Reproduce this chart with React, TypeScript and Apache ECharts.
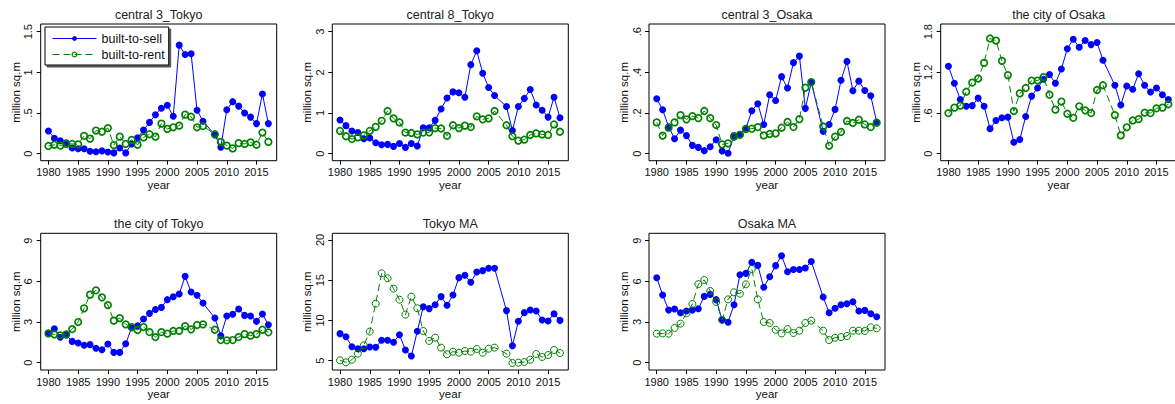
import React, { useEffect, useRef } from "react";
import * as echarts from "echarts";

// years observed (1980–2017, no 2007 observation)
const years = [
  1980, 1981, 1982, 1983, 1984, 1985, 1986, 1987, 1988, 1989,
  1990, 1991, 1992, 1993, 1994, 1995, 1996, 1997, 1998, 1999,
  2000, 2001, 2002, 2003, 2004, 2005, 2006, 2008, 2009, 2010,
  2011, 2012, 2013, 2014, 2015, 2016, 2017,
];
const xTicks = [1980, 1985, 1990, 1995, 2000, 2005, 2010, 2015];

const panelTitles = [
  "central 3_Tokyo",
  "central 8_Tokyo",
  "central 3_Osaka",
  "the city of Osaka",
  "the city of Tokyo",
  "Tokyo MA",
  "Osaka MA",
];

const central3TokyoSell = [
  0.28, 0.19, 0.16, 0.135, 0.07, 0.06, 0.06, 0.03, 0.025, 0.035,
  0.02, 0.01, 0.07, 0.01, 0.12, 0.195, 0.29, 0.385, 0.48, 0.56,
  0.595, 0.46, 1.335, 1.22, 1.23, 0.535, 0.4, 0.23, 0.08, 0.54,
  0.64, 0.585, 0.5, 0.45, 0.37, 0.735, 0.37,
];
const central3TokyoRent = [
  0.095, 0.11, 0.1, 0.12, 0.12, 0.115, 0.22, 0.185, 0.285, 0.27,
  0.315, 0.105, 0.21, 0.12, 0.17, 0.11, 0.2, 0.24, 0.21, 0.37,
  0.305, 0.325, 0.345, 0.48, 0.455, 0.325, 0.34, 0.24, 0.145, 0.1,
  0.065, 0.13, 0.12, 0.14, 0.11, 0.26, 0.145,
];

const central8TokyoSell = [
  0.83, 0.69, 0.56, 0.52, 0.37, 0.385, 0.27, 0.22, 0.23, 0.18,
  0.25, 0.155, 0.25, 0.19, 0.64, 0.64, 0.82, 1.1, 1.37, 1.52,
  1.5, 1.39, 2.19, 2.53, 1.98, 1.63, 1.43, 1.16, 0.57, 1.16,
  1.36, 1.58, 1.2, 1.07, 0.9, 1.39, 0.885,
];
const central8TokyoRent = [
  0.56, 0.43, 0.36, 0.4, 0.45, 0.56, 0.66, 0.81, 1.05, 0.87,
  0.77, 0.52, 0.51, 0.475, 0.52, 0.525, 0.63, 0.62, 0.44, 0.7,
  0.63, 0.69, 0.655, 0.92, 0.845, 0.87, 1.05, 0.7, 0.43, 0.32,
  0.345, 0.46, 0.5, 0.475, 0.46, 0.72, 0.54,
];

const central3OsakaSell = [
  0.27, 0.216, 0.133, 0.074, 0.116, 0.089, 0.041, 0.031, 0.015, 0.034,
  0.069, 0.013, 0.002, 0.089, 0.095, 0.125, 0.211, 0.246, 0.144, 0.29,
  0.262, 0.379, 0.323, 0.448, 0.48, 0.223, 0.351, 0.11, 0.144, 0.218,
  0.361, 0.454, 0.31, 0.357, 0.311, 0.285, 0.156,
];
const central3OsakaRent = [
  0.154, 0.089, 0.128, 0.154, 0.19, 0.169, 0.185, 0.175, 0.21, 0.175,
  0.141, 0.046, 0.051, 0.084, 0.093, 0.121, 0.123, 0.131, 0.09, 0.097,
  0.1, 0.128, 0.156, 0.131, 0.17, 0.325, 0.352, 0.134, 0.039, 0.084,
  0.107, 0.161, 0.151, 0.167, 0.144, 0.131, 0.152,
];

const cityOsakaSell = [
  1.29, 1.04, 0.8, 0.7, 0.71, 0.82, 0.7, 0.37, 0.49, 0.53,
  0.54, 0.17, 0.21, 0.55, 0.85, 0.97, 1.1, 1.17, 1.04, 1.25,
  1.55, 1.69, 1.57, 1.67, 1.61, 1.64, 1.38, 1.01, 0.72, 1.0,
  0.95, 1.18, 1.01, 0.91, 0.97, 0.87, 0.8,
];
const cityOsakaRent = [
  0.6, 0.68, 0.71, 0.915, 1.05, 1.11, 1.34, 1.7, 1.67, 1.37,
  1.16, 0.63, 0.89, 0.97, 1.08, 1.08, 1.13, 0.87, 0.65, 0.77,
  0.59, 0.53, 0.7, 0.64, 0.6, 0.94, 1.01, 0.57, 0.27, 0.39,
  0.49, 0.51, 0.605, 0.6, 0.67, 0.68, 0.73,
];

const cityTokyoSell = [
  2.16, 2.51, 1.87, 2.04, 1.57, 1.45, 1.28, 1.33, 1.06, 0.96,
  1.38, 0.76, 0.76, 1.4, 2.58, 2.73, 3.22, 3.64, 3.93, 4.08,
  4.65, 4.87, 5.07, 6.37, 5.21, 4.97, 4.4, 3.29, 1.99, 3.44,
  3.57, 3.96, 3.49, 3.44, 3.05, 3.59, 2.8,
];
const cityTokyoRent = [
  2.16, 2.09, 2.02, 2.09, 2.48, 3.0, 4.01, 5.02, 5.34, 4.82,
  4.25, 3.1, 3.29, 2.83, 2.63, 2.41, 2.63, 2.26, 1.89, 2.26,
  2.14, 2.34, 2.34, 2.7, 2.46, 2.78, 2.83, 2.43, 1.67, 1.65,
  1.67, 1.89, 2.11, 1.99, 2.11, 2.43, 2.24,
];

const tokyoMASell = [
  8.36, 7.98, 6.74, 6.49, 6.49, 6.7, 6.66, 7.53, 7.53, 7.28,
  8.23, 6.33, 5.58, 8.65, 11.71, 11.47, 11.96, 12.96, 11.88, 13.16,
  15.32, 15.61, 14.74, 16.02, 16.19, 16.48, 16.48, 11.22, 6.86, 9.89,
  10.97, 11.3, 11.17, 10.06, 9.93, 10.84, 10.01,
];
const tokyoMARent = [
  5.04, 4.79, 5.12, 5.87, 6.91, 8.61, 12.09, 15.86, 15.24, 13.95,
  12.58, 10.72, 12.96, 11.51, 8.69, 7.45, 7.86, 6.62, 5.79, 6.12,
  5.99, 6.2, 6.12, 6.45, 5.99, 6.49, 6.62, 5.87, 4.71, 4.75,
  4.83, 5.12, 5.83, 5.46, 5.7, 6.33, 5.95,
];

const osakaMASell = [
  6.27, 4.99, 3.88, 3.96, 3.69, 3.81, 3.88, 3.98, 4.89, 5.04,
  4.65, 3.17, 2.98, 4.28, 6.49, 6.59, 7.4, 7.18, 5.56, 6.34,
  7.16, 7.89, 6.71, 6.88, 6.88, 6.98, 7.47, 4.84, 3.69, 4.01,
  4.28, 4.35, 4.5, 3.81, 3.86, 3.61, 3.39,
];
const osakaMARent = [
  2.14, 2.16, 2.14, 2.56, 2.88, 3.64, 4.33, 5.8, 6.1, 5.29,
  4.48, 3.15, 4.67, 5.19, 5.09, 5.78, 6.91, 4.67, 3.0, 2.93,
  2.43, 2.16, 2.48, 2.19, 2.36, 2.93, 3.1, 2.36, 1.67, 1.84,
  1.89, 1.97, 2.36, 2.36, 2.34, 2.61, 2.53,
];

const sellSeries = [
  central3TokyoSell, central8TokyoSell, central3OsakaSell, cityOsakaSell,
  cityTokyoSell, tokyoMASell, osakaMASell,
];
const rentSeries = [
  central3TokyoRent, central8TokyoRent, central3OsakaRent, cityOsakaRent,
  cityTokyoRent, tokyoMARent, osakaMARent,
];

const yTickValues = [
  [0, 0.5, 1, 1.5],
  [0, 1, 2, 3],
  [0, 0.2, 0.4, 0.6],
  [0, 0.6, 1.2, 1.8],
  [0, 3, 6, 9],
  [5, 10, 15, 20],
  [0, 3, 6, 9],
];
const yRanges = [
  [-0.086, 1.595],
  [-0.172, 3.19],
  [-0.0344, 0.638],
  [-0.103, 1.914],
  [-0.54, 9.546],
  [3.84, 20.83],
  [-0.54, 9.546],
];

// layout
const colLefts = [40.7, 332.3, 649, 940.7];
const rowTops = [24, 233.3];
const gridW = 236;
const gridH = 136.7;
const FONT = "'Liberation Sans', Arial, Helvetica, sans-serif";
const BLUE = "#0000ff";
const GREEN = "#008000";

function fmtTick(v: number): string {
  const r = parseFloat(v.toFixed(3));
  let s = String(r);
  if (s.startsWith("0.")) s = s.slice(1);
  if (s.startsWith("-0.")) s = "-" + s.slice(2);
  return s;
}

export default function App() {
  const ref = useRef<HTMLDivElement>(null);

  useEffect(() => {
    if (!ref.current) return;
    const chart = echarts.init(ref.current, undefined, { renderer: "svg" });

    const pos = panelTitles.map((_, i) => ({
      left: colLefts[i % 4],
      top: rowTops[Math.floor(i / 4)],
    }));

    const grids = pos.map((p) => ({
      left: p.left,
      top: p.top,
      width: gridW,
      height: gridH,
      show: true,
      borderColor: "#000",
      borderWidth: 1,
      backgroundColor: "rgba(0,0,0,0)",
      containLabel: false,
      outerBoundsMode: "none",
    }));

    const xAxes = pos.map((_, i) => ({
      type: "value",
      gridIndex: i,
      min: 1978.7,
      max: 2018.4,
      name: "year",
      nameLocation: "middle",
      nameGap: 16,
      nameTextStyle: { fontSize: 11.5, color: "#111", fontFamily: FONT },
      axisLine: { show: false, onZero: false },
      axisTick: {
        show: true,
        length: 4,
        customValues: xTicks,
        lineStyle: { color: "#000", width: 1 },
      },
      axisLabel: {
        customValues: xTicks,
        fontSize: 11,
        color: "#111",
        margin: 6,
        fontFamily: FONT,
        formatter: (v: number) => String(Math.round(v)),
      },
      splitLine: { show: false },
    }));

    const yAxes = pos.map((_, i) => ({
      type: "value",
      gridIndex: i,
      min: yRanges[i][0],
      max: yRanges[i][1],
      name: "million sq.m",
      nameLocation: "middle",
      nameGap: 19,
      nameTextStyle: { fontSize: 11.5, color: "#111", fontFamily: FONT },
      axisLine: { show: false, onZero: false },
      axisTick: {
        show: true,
        length: 4,
        customValues: yTickValues[i],
        lineStyle: { color: "#000", width: 1 },
      },
      axisLabel: {
        customValues: yTickValues[i],
        rotate: 90,
        fontSize: 11,
        color: "#111",
        margin: 7,
        fontFamily: FONT,
        formatter: (v: number) => fmtTick(v),
      },
      splitLine: { show: false },
    }));

    const series: any[] = [];
    pos.forEach((_, i) => {
      const thin = i >= 5;
      series.push({
        type: "line",
        name: "built-to-sell",
        xAxisIndex: i,
        yAxisIndex: i,
        data: years.map((yr, k) => [yr, sellSeries[i][k]]),
        symbol: "circle",
        symbolSize: 7,
        lineStyle: { color: BLUE, width: 1 },
        itemStyle: { color: BLUE },
        z: 2,
      });
      series.push({
        type: "line",
        name: "built-to-rent",
        xAxisIndex: i,
        yAxisIndex: i,
        data: years.map((yr, k) => [yr, rentSeries[i][k]]),
        symbol: "circle",
        symbolSize: thin ? 7 : 6.5,
        lineStyle: { color: GREEN, width: 1, type: [7, 4] },
        itemStyle: {
          color: "rgba(255,255,255,0)",
          borderColor: GREEN,
          borderWidth: thin ? 1 : 1.7,
        },
        z: 3,
      });
    });

    const titles = pos.map((p, i) => ({
      type: "text",
      x: p.left + gridW / 2,
      y: p.top - 9,
      style: {
        text: panelTitles[i],
        fontSize: 12.5,
        fontFamily: FONT,
        fill: "#222",
        textAlign: "center",
        textVerticalAlign: "middle",
      },
    }));

    chart.setOption({
      animation: false,
      backgroundColor: "#fff",
      textStyle: { fontFamily: FONT },
      grid: grids,
      xAxis: xAxes,
      yAxis: yAxes,
      series,
      legend: {
        data: ["built-to-sell", "built-to-rent"],
        orient: "vertical",
        left: 45,
        top: 27,
        padding: [5, 4, 4, 7],
        itemWidth: 44,
        itemHeight: 6,
        itemGap: 3,
        selectedMode: false,
        textStyle: { fontSize: 12.5, color: "#111", fontFamily: FONT },
        lineStyle: { width: 1 },
        itemStyle: { borderWidth: 1.2 },
        borderColor: "#000",
        borderWidth: 1,
        backgroundColor: "#fff",
        shadowColor: "#555",
        shadowOffsetX: 2,
        shadowOffsetY: 2,
        shadowBlur: 0,
        z: 10,
      },
      graphic: titles,
    });

    return () => chart.dispose();
  }, []);

  return (
    <div
      ref={ref}
      style={{ position: "fixed", left: 0, top: 0, width: 1175, height: 404 }}
    />
  );
}
